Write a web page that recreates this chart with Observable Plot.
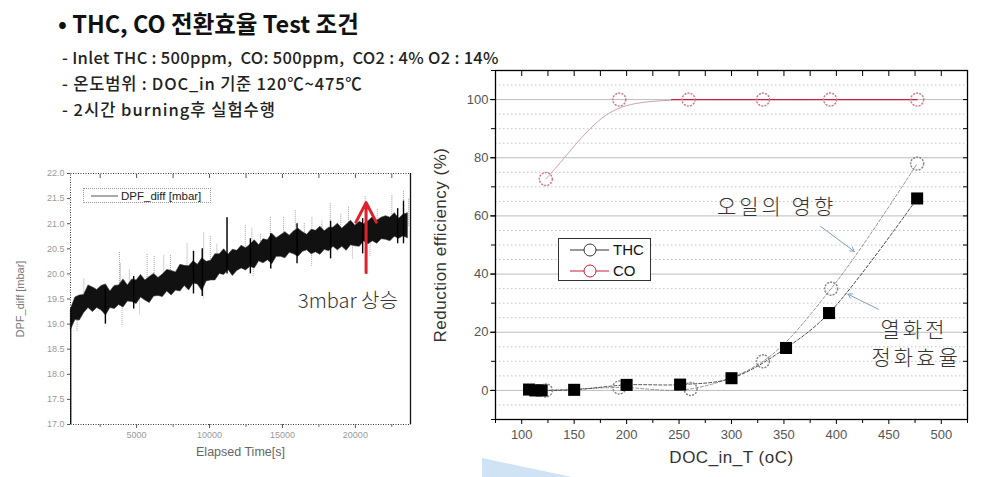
<!DOCTYPE html>
<html><head><meta charset="utf-8">
<script src="https://cdn.jsdelivr.net/npm/d3@7"></script>
<script src="https://cdn.jsdelivr.net/npm/@observablehq/plot@0.6"></script>
<style>
body{margin:0;background:#fff;}
#wrap{position:relative;width:981px;height:477px;overflow:hidden;background:#fff;font-family:"Noto Sans CJK KR",sans-serif;}
.abs{position:absolute;white-space:pre;line-height:1;}
</style></head><body><div id="wrap"></div>
<script>
// ---------- Right chart data (DOC inlet temperature vs reduction efficiency) ----------
const tempTHC = [123, 193, 261, 330, 395, 477];
const effTHC  = [0, 1, 0.5, 10, 35, 78];
const tempCO  = [123, 193, 259, 330, 394, 477];
const effCO   = [72.7, 100, 100, 100, 100, 100];
const tempFresh = [107, 113, 119, 150, 200, 251, 300, 352, 393, 477];
const effFresh  = [0.3, 0, 0, 0.2, 1.9, 2, 4.2, 14.6, 26.6, 66];
const coFitT = [123, 140, 174, 208, 243];
const coFitE = [72.7, 79.7, 92.9, 98.6, 99.8];
const coFlatT = [243, 477];
const coFlatE = [100, 100];
const rxDomain = [75, 525];
const ryDomain = [-10, 110];
const rxTicks = [100, 150, 200, 250, 300, 350, 400, 450, 500];
const rxMinor = [75, 125, 175, 225, 275, 325, 375, 425, 475, 525];
const ryTicks = [0, 20, 40, 60, 80, 100];
const ryMinor = [-5, 5, 10, 15, 25, 30, 35, 45, 50, 55, 65, 70, 75, 85, 90, 95, 105];
const ryTen = [-10, 0, 10, 20, 30, 40, 50, 60, 70, 80, 90, 100, 110];
const noteText = ["오일의 영향", "열화전", "정화효율"];
const noteX = [343, 474, 476];
const noteY = [60.6, 18.2, 8.6];
const arrX1 = [385, 440], arrY1 = [56.4, 27.9], arrX2 = [417, 411], arrY2 = [47.8, 33.1];

// ---------- Left chart data (DPF differential pressure vs elapsed time) ----------
const dpfT = [500, 800, 1100, 1400, 1700, 2000, 2300, 2600, 2900, 3200, 3500, 3800, 4100, 4400, 4700, 5000, 5300, 5600, 5900, 6200, 6500, 6800, 7100, 7400, 7700, 8000, 8300, 8600, 8900, 9200, 9500, 9800, 10100, 10400, 10700, 11000, 11300, 11600, 11900, 12200, 12500, 12800, 13100, 13400, 13700, 14000, 14300, 14600, 14900, 15200, 15500, 15800, 16100, 16400, 16700, 17000, 17300, 17600, 17900, 18200, 18500, 18800, 19100, 19400, 19700, 20000, 20300, 20600, 20900, 21200, 21500, 21800, 22100, 22400, 22700, 23000, 23300, 23600];
const dpfHi = [19.30, 19.53, 19.57, 19.58, 19.77, 19.73, 19.68, 19.76, 19.79, 19.65, 19.76, 19.77, 19.89, 19.77, 19.89, 19.87, 19.98, 19.87, 19.94, 20.00, 19.92, 19.99, 20.08, 20.06, 20.03, 20.18, 20.16, 20.15, 20.25, 20.18, 20.31, 20.24, 20.26, 20.39, 20.39, 20.49, 20.38, 20.48, 20.46, 20.56, 20.51, 20.58, 20.67, 20.57, 20.69, 20.67, 20.80, 20.71, 20.77, 20.83, 20.76, 20.85, 20.90, 20.83, 20.78, 20.88, 20.86, 20.94, 20.85, 20.92, 20.92, 21.00, 20.90, 20.98, 21.06, 20.96, 21.04, 20.99, 21.05, 21.13, 21.06, 21.12, 21.15, 21.12, 21.21, 21.10, 21.18, 21.21];
const dpfLo = [18.88, 19.08, 19.07, 19.22, 19.32, 19.24, 19.32, 19.27, 19.17, 19.32, 19.30, 19.38, 19.33, 19.45, 19.44, 19.40, 19.53, 19.47, 19.42, 19.55, 19.56, 19.54, 19.65, 19.57, 19.67, 19.65, 19.76, 19.67, 19.81, 19.79, 19.66, 19.85, 19.87, 19.87, 20.00, 19.98, 20.08, 19.96, 20.06, 20.11, 20.07, 20.14, 20.11, 20.25, 20.21, 20.27, 20.19, 20.34, 20.34, 20.31, 20.42, 20.39, 20.34, 20.44, 20.47, 20.39, 20.43, 20.38, 20.48, 20.45, 20.54, 20.47, 20.54, 20.46, 20.57, 20.55, 20.54, 20.65, 20.59, 20.65, 20.60, 20.69, 20.68, 20.65, 20.74, 20.70, 20.75, 20.71];
const spikeUpT    = [1380, 2860, 3820, 3890, 4500, 5720, 6200, 6860, 7320, 8460, 9600, 10050, 10500, 11200, 12450, 12900, 13500, 14170, 15080, 15880, 16500, 17020, 17700, 18280, 19000, 19530, 20670, 21500, 22500, 23300, 23650];
const spikeUpBase = [19.4, 19.47, 19.57, 19.58, 19.62, 19.69, 19.73, 19.78, 19.83, 19.94, 20.0, 20.05, 20.12, 20.22, 20.31, 20.36, 20.4, 20.47, 20.55, 20.6, 20.62, 20.62, 20.64, 20.67, 20.72, 20.74, 20.8, 20.86, 20.9, 20.94, 20.95];
const spikeUpTop  = [19.9, 19.75, 20.43, 20.2, 20.1, 20.4, 20.35, 20.37, 20.37, 20.6, 20.83, 20.76, 20.6, 21.12, 20.98, 20.9, 20.8, 21.14, 21.14, 21.27, 21.0, 21.14, 21.05, 21.41, 21.2, 21.34, 21.55, 21.3, 21.57, 21.64, 21.5];
const spikeDnT    = [924, 2860, 4000, 5200, 9600, 13000, 17000, 19800, 21000];
const spikeDnLow  = [18.85, 19.0, 18.97, 19.2, 19.5, 19.95, 20.15, 20.3, 20.35];
const spikeDnBase = [19.3, 19.47, 19.6, 19.66, 20.0, 20.36, 20.62, 20.75, 20.82];
const darkT  = [480, 2860, 4800, 8900, 9500, 11200, 12800, 14200, 16000, 18300, 20500, 22900, 23300];
const darkLo = [17.0, 19.0, 19.3, 19.6, 19.55, 20.0, 20.0, 20.1, 20.2, 20.3, 20.4, 20.6, 20.6];
const darkHi = [19.3, 19.7, 19.95, 20.45, 20.5, 21.12, 20.7, 20.8, 21.0, 21.05, 21.1, 21.3, 21.45];
const lxDomain = [467, 23780];
const lyDomain = [17, 22];
const lxTicks = [5000, 10000, 15000, 20000];
const lxMinor = [2500, 7500, 12500, 17500, 22500];
const lyTicks = [17, 17.5, 18, 18.5, 19, 19.5, 20, 20.5, 21, 21.5, 22];
const riseT = 20735, riseFrom = 20.03, riseTo = 21.42;
const riseLabel = "3mbar 상승", riseLabelT = 19485, riseLabelY = 19.33;

const wrap = document.getElementById("wrap");
function place(el, left, top) {
  const d = document.createElement("div");
  d.className = "abs"; d.style.left = left + "px"; d.style.top = top + "px";
  d.appendChild(el); wrap.appendChild(d); return d;
}
function textDiv(txt, left, top, css) {
  const d = document.createElement("div");
  d.className = "abs"; d.textContent = txt;
  d.style.left = left + "px"; d.style.top = top + "px";
  Object.assign(d.style, css); wrap.appendChild(d); return d;
}

// ---------- Slide text ----------
textDiv("• THC, CO 전환효율 Test 조건", 58, 12, {fontSize: "23.5px", fontWeight: "700", color: "#111"});
textDiv("- Inlet THC : 500ppm,  CO: 500ppm,  CO2 : 4% O2 : 14%", 62, 49, {fontSize: "16.5px", fontWeight: "500", color: "#222", letterSpacing: "0.3px"});
textDiv("- 온도범위 : DOC_in 기준 120℃~475℃", 62, 75, {fontSize: "16.5px", fontWeight: "500", color: "#222", letterSpacing: "0.8px"});
textDiv("- 2시간 burning후 실험수행", 62, 101, {fontSize: "16.5px", fontWeight: "500", color: "#222", letterSpacing: "1px"});

// decorative blue shape
const blue = document.createElement("div");
blue.className = "abs";
Object.assign(blue.style, {left: "482px", top: "458px", width: "90px", height: "19px", background: "#cfe3f4", clipPath: "polygon(0 0, 100% 100%, 0 100%)"});
wrap.appendChild(blue);

// ---------- Left chart ----------
const band = dpfT.map((t, i) => ({t, lo: dpfLo[i], hi: dpfHi[i]}));
const upS = spikeUpT.map((t, i) => ({t, lo: spikeUpBase[i], hi: spikeUpTop[i]}));
const dnS = spikeDnT.map((t, i) => ({t, lo: spikeDnLow[i], hi: spikeDnBase[i]}));
const dkS = darkT.map((t, i) => ({t, lo: darkLo[i], hi: darkHi[i]}));

const leftPlot = Plot.plot({
  width: 430, height: 320, marginLeft: 70, marginRight: 20, marginTop: 23, marginBottom: 46,
  style: {background: "transparent", fontFamily: "'Liberation Sans', Arial, sans-serif", fontSize: "9px", color: "#888", overflow: "visible"},
  x: {domain: lxDomain}, y: {domain: lyDomain},
  marks: [
    Plot.ruleX(upS, {x: "t", y1: "lo", y2: "hi", stroke: "#888", strokeWidth: 0.8, strokeDasharray: "1,1"}),
    Plot.ruleX(dnS, {x: "t", y1: "lo", y2: "hi", stroke: "#999", strokeWidth: 0.8, strokeDasharray: "1,1"}),
    Plot.areaY(band, {x: "t", y1: "lo", y2: "hi", fill: "#111", stroke: "#333", strokeWidth: 0.6}),
    Plot.ruleX(dkS, {x: "t", y1: "lo", y2: "hi", stroke: "#000", strokeWidth: 1.4}),
    Plot.frame({stroke: "#333", strokeDasharray: "1,1.5"}),
    Plot.ruleX([lxDomain[1]], {stroke: "#111", strokeWidth: 1.3}),
    Plot.axisX(lxTicks, {anchor: "bottom", tickSize: 4, tickPadding: 3, label: null, fill: "#999", stroke: "#555", fontSize: 9, tickFormat: d => String(d)}),
    Plot.axisX(lxMinor, {anchor: "bottom", tickSize: 3, fill: "none", stroke: "#777"}),
    Plot.axisX(lxTicks.concat(lxMinor), {anchor: "top", tickSize: 4, dy: 4, fill: "none", stroke: "#555"}),
    Plot.axisY(lyTicks, {anchor: "left", tickSize: 3, tickPadding: 3, label: null, fill: "#999", stroke: "#555", fontSize: 9, tickFormat: d => d.toFixed(1)}),
    Plot.text(["DPF_diff [mbar]"], {frameAnchor: "left", dx: -50, rotate: -90, textAnchor: "middle", fontSize: 11, fill: "#777"}),
    Plot.text(["Elapsed Time[s]"], {frameAnchor: "bottom", dy: 31, fontSize: 12.5, fill: "#666"}),
    Plot.arrow([{x: riseT, y1: riseFrom, y2: riseTo}], {x1: "x", x2: "x", y1: "y1", y2: "y2", stroke: "#e0202a", strokeWidth: 3, headLength: 11, headAngle: 55}),
    Plot.text([riseLabel], {x: riseLabelT, y: riseLabelY, fontSize: 20, fill: "#333", fontWeight: 300, lineAnchor: "bottom", fontFamily: "'Noto Sans CJK KR', sans-serif"})
  ]
});
place(leftPlot, 0, 150);

// left legend
const lg1 = document.createElement("div");
lg1.className = "abs";
Object.assign(lg1.style, {left: "83px", top: "188px", width: "126px", height: "13px", border: "1px dotted #999", background: "#fff"});
lg1.innerHTML = '<svg width="126" height="13" style="position:absolute;left:0;top:0"><line x1="7" x2="34" y1="7" y2="7" stroke="#555" stroke-width="1"/><text x="37" y="11" font-family="Liberation Sans, Arial, sans-serif" font-size="11.5" fill="#222">DPF_diff [mbar]</text></svg>';
wrap.appendChild(lg1);

// ---------- Right chart ----------
const thc = tempTHC.map((x, i) => ({x, y: effTHC[i]}));
const co = tempCO.map((x, i) => ({x, y: effCO[i]}));
const fresh = tempFresh.map((x, i) => ({x, y: effFresh[i]}));
const coFit = coFitT.map((x, i) => ({x, y: coFitE[i]}));
const coFlat = coFlatT.map((x, i) => ({x, y: coFlatE[i]}));
const notes = noteText.map((t, i) => ({t, x: noteX[i], y: noteY[i]}));
const arrows = arrX1.map((x1, i) => ({x1, y1: arrY1[i], x2: arrX2[i], y2: arrY2[i]}));

const rightPlot = Plot.plot({
  width: 561, height: 417, marginLeft: 75, marginRight: 14, marginTop: 10, marginBottom: 58,
  style: {background: "transparent", fontFamily: "'Liberation Sans', Arial, sans-serif", fontSize: "13px", color: "#555", overflow: "visible"},
  x: {domain: rxDomain}, y: {domain: ryDomain},
  marks: [
    Plot.gridY(ryMinor, {stroke: "#c4c4c4", strokeOpacity: 1, strokeDasharray: "1.5,2.5"}),
    Plot.gridY(ryTicks, {stroke: "#bdbdbd", strokeOpacity: 1}),
    Plot.line(coFit, {x: "x", y: "y", stroke: "#c9a3ab", strokeWidth: 1, curve: "natural"}),
    Plot.line(coFlat, {x: "x", y: "y", stroke: "#c3203c", strokeWidth: 1.2}),
    Plot.line(thc, {x: "x", y: "y", stroke: "#888", strokeWidth: 0.9, strokeDasharray: "3,2", curve: "catmull-rom"}),
    Plot.line(fresh, {x: "x", y: "y", stroke: "#222", strokeWidth: 0.8, strokeDasharray: "3,2", curve: "catmull-rom"}),
    Plot.dot(co, {x: "x", y: "y", r: 6.5, stroke: "#d07a88", strokeDasharray: "2,1.2"}),
    Plot.dot(thc, {x: "x", y: "y", r: 6.5, stroke: "#888", strokeDasharray: "2,1.2"}),
    Plot.dot(fresh, {x: "x", y: "y", r: 6.8, symbol: "square", fill: "#000"}),
    Plot.arrow(arrows, {x1: "x1", y1: "y1", x2: "x2", y2: "y2", stroke: "#7f9fc4", strokeWidth: 1, headLength: 7}),
    Plot.text(notes, {x: "x", y: "y", text: "t", fontSize: 21, fill: "#333", fontWeight: 300, lineAnchor: "bottom", fontFamily: "'Noto Sans CJK KR', sans-serif"}),
    Plot.frame({stroke: "#000", strokeWidth: 1.3}),
    Plot.axisX(rxTicks, {anchor: "bottom", tickSize: 5, tickPadding: 5, label: null, fill: "#555", stroke: "#000", fontSize: 13}),
    Plot.axisX(rxMinor, {anchor: "bottom", tickSize: 4, fill: "none", stroke: "#000"}),
    Plot.axisX(rxTicks.concat(rxMinor), {anchor: "top", tickSize: 5, dy: 5, fill: "none", stroke: "#000"}),
    Plot.axisY(ryTicks, {anchor: "left", tickSize: 5, tickPadding: 2, label: null, fill: "#555", stroke: "#000", fontSize: 13}),
    Plot.axisY(ryTen, {anchor: "left", tickSize: 4, fill: "none", stroke: "#000"}),
    Plot.axisY(ryTen, {anchor: "right", tickSize: 5, dx: -5, fill: "none", stroke: "#000"}),
    Plot.text(["Reduction efficiency (%)"], {frameAnchor: "left", dx: -55, rotate: -90, textAnchor: "middle", fontSize: 17, fill: "#333"}),
    Plot.text(["DOC_in_T (oC)"], {frameAnchor: "bottom", dy: 43, fontSize: 17, fill: "#333"})
  ]
});
rightPlot.querySelectorAll("text").forEach(t => {
  if (noteText.includes(t.textContent)) t.style.letterSpacing = "3px";
  if (t.textContent === "Reduction efficiency (%)" || t.textContent === "DOC_in_T (oC)") t.style.letterSpacing = "0.5px";
});
place(rightPlot, 420, 60);

// right legend
const lg2 = document.createElement("div");
lg2.className = "abs";
Object.assign(lg2.style, {left: "558px", top: "238px", width: "91px", height: "41px", border: "1px solid #333", background: "#fff"});
lg2.innerHTML = '<svg width="91" height="41" style="position:absolute;left:0;top:0">' +
  '<line x1="11" x2="50" y1="11" y2="11" stroke="#333"/><circle cx="31" cy="11" r="6" fill="#fff" stroke="#333"/>' +
  '<text x="54" y="16" font-family="Liberation Sans, Arial, sans-serif" font-size="15" fill="#111">THC</text>' +
  '<line x1="11" x2="50" y1="32" y2="32" stroke="#c3203c"/><circle cx="31" cy="32" r="6" fill="#fff" stroke="#c3203c"/>' +
  '<text x="54" y="37" font-family="Liberation Sans, Arial, sans-serif" font-size="15" fill="#111">CO</text></svg>';
wrap.appendChild(lg2);
</script></body></html>
